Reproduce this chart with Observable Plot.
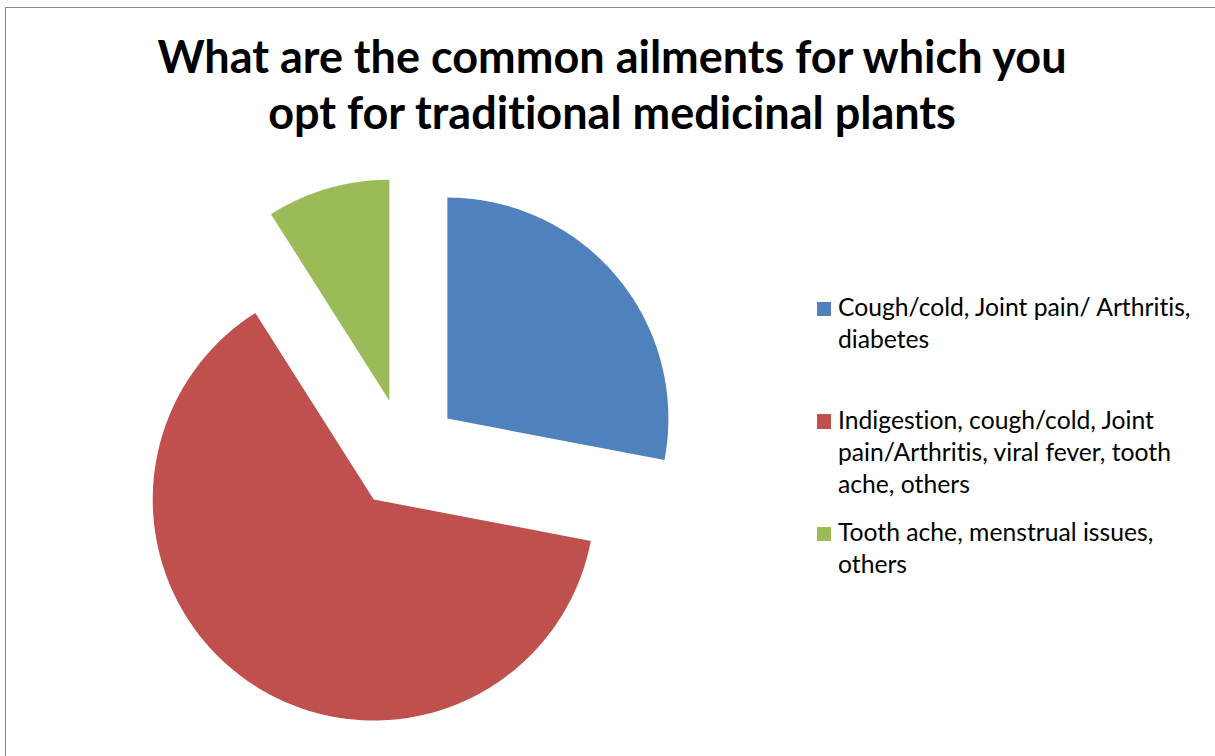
<!DOCTYPE html>
<html>
<head>
<meta charset="utf-8">
<script src="https://cdn.jsdelivr.net/npm/d3@7"></script>
<script src="https://cdn.jsdelivr.net/npm/@observablehq/plot@0.6"></script>
<style>
  html, body { margin: 0; padding: 0; background: #fff; }
  body { width: 1215px; height: 756px; position: relative; overflow: hidden; font-family: Lato, "Open Sans", sans-serif; font-variant-ligatures: none; }
  #frame { position: absolute; left: 5px; top: 7px; width: 1240px; height: 780px; border: 1.5px solid #8a8a8a; box-sizing: border-box; }
  #title { position: absolute; left: 132px; width: 960px; top: 27.6px; text-align: center; font-weight: 700; font-size: 45px; line-height: 56px; color: #000; }
  #chart { position: absolute; left: 0; top: 150px; }
  #legend { position: absolute; left: 817px; top: 291.4px; }
  .item { position: relative; height: 112.4px; }
  .swatch { position: absolute; left: 0; top: 10.6px; width: 14.4px; height: 14.4px; }
  .label { position: absolute; left: 21px; top: 0; width: 368px; font-size: 24.7px; line-height: 32px; color: #000; }
</style>
</head>
<body>
<div id="frame"></div>
<div id="title"></div>
<div id="chart"></div>
<div id="legend"></div>
<script>
// ---- data ----
const title = "What are the common ailments for which you opt for traditional medicinal plants";
const categories = [
  "Cough/cold, Joint pain/ Arthritis, diabetes",
  "Indigestion, cough/cold, Joint pain/Arthritis, viral fever, tooth ache, others",
  "Tooth ache, menstrual issues, others"
];
const values = [28, 63, 9];
const colors = ["#4F81BD", "#C0504D", "#9BBB59"];

// ---- layout constants (styles) ----
const W = 1215, H = 606;
const R = 221;             // pie radius in px
const CX = 404.3, CY = 303.3; // pie centre in svg px
const EXPLODE = 0.25;      // explosion as fraction of radius

document.getElementById("title").textContent = title;

const data = categories.map((c, i) => ({cat: c, value: values[i]}));
const arcs = d3.pie().sort(null).value(d => d.value)(data);

const pts = [];
for (const a of arcs) {
  const m = (a.startAngle + a.endAngle) / 2;
  const ox = EXPLODE * Math.sin(m), oy = EXPLODE * Math.cos(m);
  pts.push({cat: a.data.cat, x: ox, y: oy});
  const n = Math.max(8, Math.ceil((a.endAngle - a.startAngle) * 80));
  for (let i = 0; i <= n; i++) {
    const t = a.startAngle + (a.endAngle - a.startAngle) * i / n;
    pts.push({cat: a.data.cat, x: ox + Math.sin(t), y: oy + Math.cos(t)});
  }
  pts.push({cat: a.data.cat, x: ox, y: oy});
}

const chart = Plot.plot({
  width: W,
  height: H,
  margin: 0,
  style: {background: "transparent"},
  x: {domain: [-CX / R, (W - CX) / R], axis: null},
  y: {domain: [(CY - H) / R, CY / R], axis: null},
  color: {domain: categories, range: colors},
  marks: [
    Plot.line(pts, {x: "x", y: "y", z: "cat", fill: "cat", stroke: "none", curve: "linear"})
  ]
});
document.getElementById("chart").appendChild(chart);

const legend = document.getElementById("legend");
categories.forEach((c, i) => {
  const item = document.createElement("div");
  item.className = "item";
  const sw = document.createElement("div");
  sw.className = "swatch";
  sw.style.background = chart.scale("color").apply(c);
  const lb = document.createElement("div");
  lb.className = "label";
  lb.textContent = c;
  item.appendChild(sw);
  item.appendChild(lb);
  legend.appendChild(item);
});
</script>
</body>
</html>
